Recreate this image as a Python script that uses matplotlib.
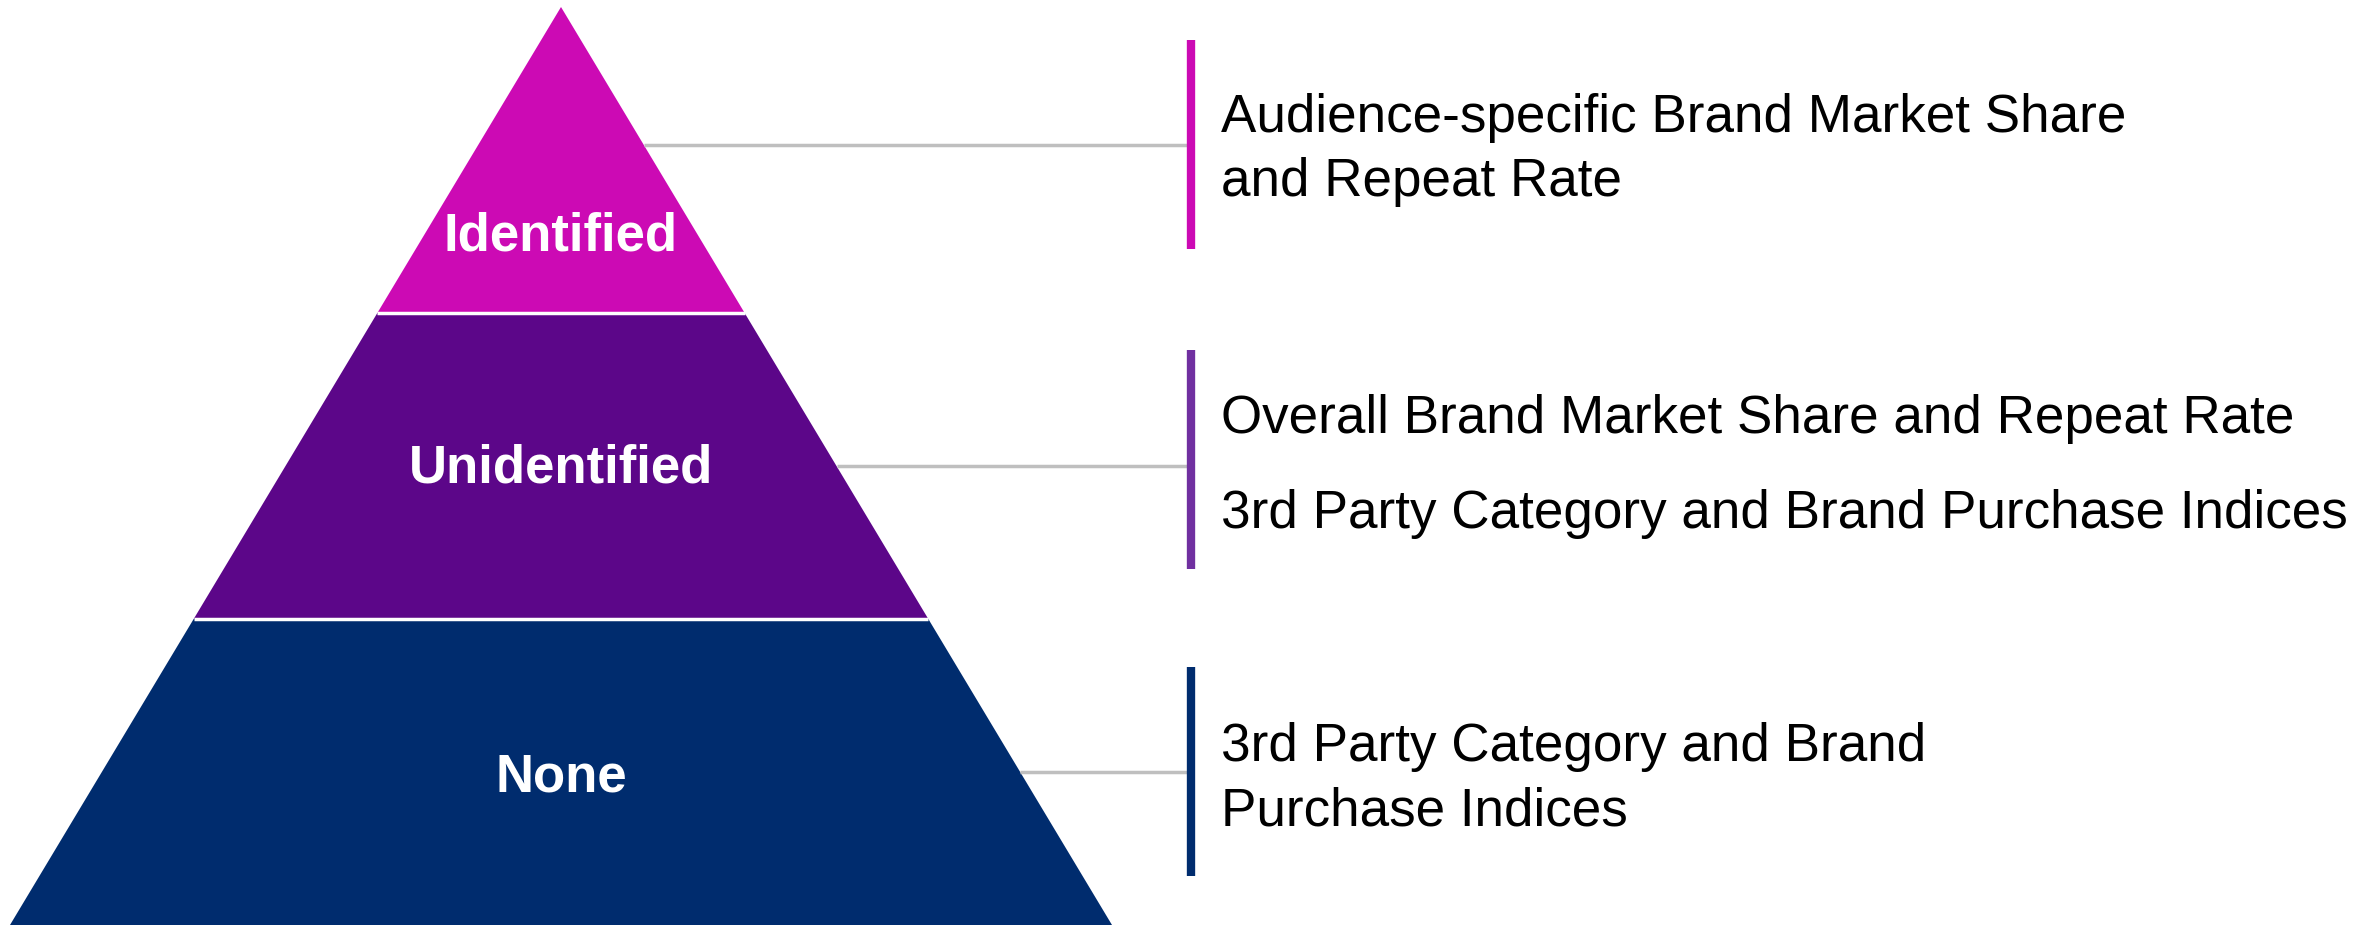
import matplotlib.pyplot as plt
from matplotlib.patches import Polygon

# tiers from top to bottom
tiers = ['Identified', 'Unidentified', 'None']
tier_colors = ['#CC0AB4', '#5C0689', '#002C6E']
bar_colors = ['#CC0AB4', '#7030A0', '#002C6E']
descriptions = [
    ['Audience-specific Brand Market Share', 'and Repeat Rate'],
    ['Overall Brand Market Share and Repeat Rate',
     '3rd Party Category and Brand Purchase Indices'],
    ['3rd Party Category and Brand', 'Purchase Indices'],
]

W, H = 2379, 927
fig = plt.figure(figsize=(W / 100, H / 100), dpi=100)
ax = fig.add_axes([0, 0, 1, 1])
ax.set_xlim(0, W)
ax.set_ylim(H, 0)
ax.axis('off')

# pyramid geometry (pixel space)
apex_x, apex_y = 561, 7
base_y, half_base = 925, 551
n = len(tiers)
tier_h = (base_y - apex_y) / n


def half_width(y):
    return half_base * (y - apex_y) / (base_y - apex_y)


bar_x = 1191
text_x = 1221
label_shift = [0, 2, 6]
line_offsets = [[-27, 37], [-47, 48], [-25, 39]]
for i, name in enumerate(tiers):
    y0 = apex_y + i * tier_h
    y1 = y0 + tier_h
    pts = [(apex_x - half_width(y0), y0), (apex_x + half_width(y0), y0),
           (apex_x + half_width(y1), y1), (apex_x - half_width(y1), y1)]
    ax.add_patch(Polygon(pts, closed=True, facecolor=tier_colors[i], edgecolor='none'))
    if i > 0:
        ax.plot([apex_x - half_width(y0), apex_x + half_width(y0)], [y0, y0],
                color='white', lw=2.5, solid_capstyle='butt')

    ymid = y0 + tier_h * (0.75 if i == 0 else 0.5) + label_shift[i]
    ax.text(apex_x, ymid, name, color='white', fontsize=38, fontweight='bold',
            family='Liberation Sans', ha='center', va='center')

    # connector and side bar
    yc = y0 + tier_h * (0.45 if i == 0 else 0.5)
    ax.plot([apex_x + half_width(yc), bar_x], [yc, yc], color='#BFBFBF', lw=2.5,
            solid_capstyle='butt')
    ax.plot([bar_x, bar_x], [yc - 105 if i != 1 else yc - 116, yc + 104 if i != 1 else yc + 103],
            color=bar_colors[i], lw=6, solid_capstyle='butt')

    for j, ln in enumerate(descriptions[i]):
        ax.text(text_x, yc + line_offsets[i][j], ln, fontsize=38.2, family='Liberation Sans',
                color='black', ha='left', va='center')

fig.savefig('out.png', dpi=100, facecolor='white')
